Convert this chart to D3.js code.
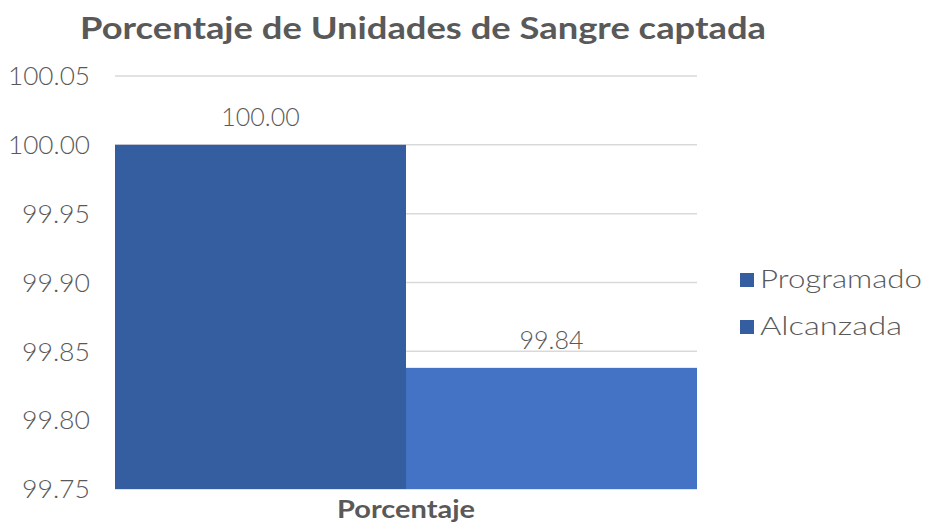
<!DOCTYPE html>
<html>
<head>
<meta charset="utf-8">
<script src="https://cdn.jsdelivr.net/npm/d3@7"></script>
<style>
  body { margin: 0; background: #fff; }
  text { font-family: "Lato", "DejaVu Sans", sans-serif; fill: #595959; }
</style>
</head>
<body>
<div id="chart"></div>
<script>
var svgWidth = 925;
var svgHeight = 522;

// data
var categories = ["Porcentaje"];
var seriesNames = ["Programado", "Alcanzada"];
var seriesValues = [100.00, 99.838];
var seriesColors = ["#355ea0", "#4472c4"];
var legendColors = ["#355ea0", "#355ea0"];
var yTicks = [99.75, 99.80, 99.85, 99.90, 99.95, 100.00, 100.05];

var margin = { top: 76, right: 228, bottom: 33, left: 115 };
var width = svgWidth - margin.left - margin.right;
var height = svgHeight - margin.top - margin.bottom;

var svg = d3.select("#chart")
    .append("svg")
    .attr("width", svgWidth)
    .attr("height", svgHeight);

var chartGroup = svg.append("g")
    .attr("transform", `translate(${margin.left}, ${margin.top})`);

var yScale = d3.scaleLinear()
    .domain([99.75, 100.05])
    .range([height, 0]);

var x0 = d3.scaleBand()
    .domain(categories)
    .range([0, width])
    .padding(0);

var x1 = d3.scaleBand()
    .domain(seriesNames)
    .range([0, x0.bandwidth()])
    .padding(0);

// gridlines
chartGroup.append("g")
    .selectAll("line")
    .data(yTicks)
    .enter()
    .append("line")
    .attr("x1", 0)
    .attr("x2", width)
    .attr("y1", d => yScale(d))
    .attr("y2", d => yScale(d))
    .attr("stroke", "#d9d9d9")
    .attr("stroke-width", 1.5);

// y axis labels
var leftAxis = d3.axisLeft(yScale)
    .tickValues(yTicks)
    .tickFormat(d3.format(".2f"))
    .tickSize(0)
    .tickPadding(25);

var yAxis = chartGroup.append("g").call(leftAxis);
yAxis.select(".domain").remove();
yAxis.selectAll("text")
    .style("font-size", "25px")
    .style("font-weight", "300")
    .attr("fill", "#595959")
    .attr("dy", "0.35em")
    .attr("textLength", d => d >= 100 ? 82 : 68)
    .attr("lengthAdjust", "spacingAndGlyphs");

// bars
var catGroup = chartGroup.selectAll(".cat")
    .data(categories)
    .enter()
    .append("g")
    .attr("transform", d => `translate(${x0(d)}, 0)`);

var bars = catGroup.selectAll("rect")
    .data(seriesNames.map((s, i) => ({ name: s, value: seriesValues[i], color: seriesColors[i] })))
    .enter()
    .append("rect")
    .attr("x", d => x1(d.name))
    .attr("width", x1.bandwidth())
    .attr("y", d => yScale(d.value))
    .attr("height", d => height - yScale(d.value))
    .attr("fill", d => d.color);

// data labels
catGroup.selectAll(".lbl")
    .data(seriesNames.map((s, i) => ({ name: s, value: seriesValues[i] })))
    .enter()
    .append("text")
    .attr("x", d => x1(d.name) + x1.bandwidth() / 2)
    .attr("y", d => yScale(d.value) - 19)
    .attr("text-anchor", "middle")
    .style("font-size", "25px")
    .style("font-weight", "300")
    .text(d => d.value.toFixed(2));

// x axis label
chartGroup.append("text")
    .attr("x", x0(categories[0]) + x0.bandwidth() / 2)
    .attr("y", height + 29)
    .attr("text-anchor", "middle")
    .style("font-size", "24px")
    .style("font-weight", "bold")
    .attr("textLength", 138)
    .attr("lengthAdjust", "spacingAndGlyphs")
    .text(categories[0]);

// title
svg.append("text")
    .attr("x", 423)
    .attr("y", 39)
    .attr("text-anchor", "middle")
    .style("font-size", "31px")
    .style("font-weight", "bold")
    .attr("textLength", 686)
    .attr("lengthAdjust", "spacingAndGlyphs")
    .text("Porcentaje de Unidades de Sangre captada");

// legend
var legendWidths = [162, 142];
var legend = svg.append("g")
    .attr("transform", "translate(740, 266)");

var legendItems = legend.selectAll("g")
    .data(seriesNames)
    .enter()
    .append("g")
    .attr("transform", (d, i) => `translate(0, ${i * 47})`);

legendItems.append("rect")
    .attr("width", 14)
    .attr("height", 14)
    .attr("y", 7)
    .attr("fill", (d, i) => legendColors[i]);

legendItems.append("text")
    .attr("x", 20)
    .attr("y", 22)
    .style("font-size", "26px")
    .style("font-weight", "300")
    .attr("textLength", (d, i) => legendWidths[i])
    .attr("lengthAdjust", "spacingAndGlyphs")
    .text(d => d);
</script>
</body>
</html>
